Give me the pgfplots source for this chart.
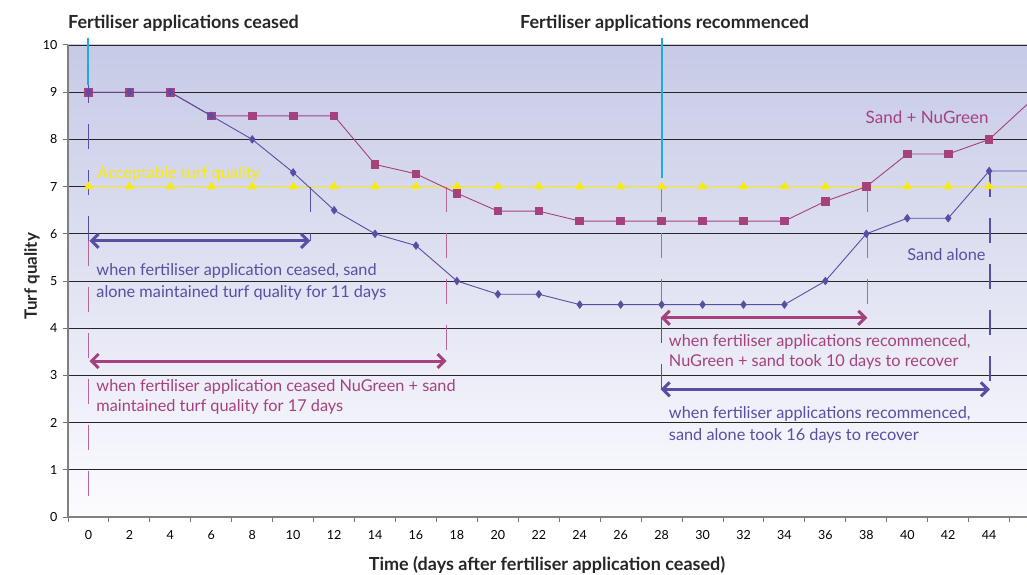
\documentclass[border=0pt]{standalone}
\usepackage{fontspec}
\setmainfont{Lato}
\usepackage{pgfplots}
\pgfplotsset{compat=1.18}
\usetikzlibrary{arrows.meta}
\definecolor{sblue}{RGB}{88,78,163}
\definecolor{smag}{RGB}{165,65,125}
\definecolor{syel}{RGB}{250,235,0}
\definecolor{scyan}{RGB}{30,170,230}
\definecolor{bgtop}{RGB}{198,202,230}
\definecolor{bgbot}{RGB}{252,252,255}
\pgfplotstableread{
x y
0 9
2 9
4 9
6 8.5
8 8
10 7.3
12 6.5
14 6
16 5.75
18 5
20 4.72
22 4.72
24 4.5
26 4.5
28 4.5
30 4.5
32 4.5
34 4.5
36 5
38 6
40 6.33
42 6.33
44 7.33
46 7.33
}\sandalone
\pgfplotstableread{
x y
0 9
2 9
4 9
6 8.5
8 8.5
10 8.5
12 8.5
14 7.47
16 7.27
18 6.86
20 6.48
22 6.48
24 6.27
26 6.27
28 6.27
30 6.27
32 6.27
34 6.27
36 6.69
38 7
40 7.69
42 7.69
44 8
46 8.8
}\nugreen
\pgfplotstableread{
x y
0 7
2 7
4 7
6 7
8 7
10 7
12 7
14 7
16 7
18 7
20 7
22 7
24 7
26 7
28 7
30 7
32 7
34 7
36 7
38 7
40 7
42 7
44 7
46 7
}\accept
\tikzset{
  arr/.style={line width=3pt, {Straight Barb[length=7pt,width=14pt]}-{Straight Barb[length=7pt,width=14pt]}},
  vd/.style={line width=1.2pt, dash pattern=on 25pt off 21pt},
  note/.style={anchor=base west, inner sep=0pt, font=\fontsize{16.3}{16.3}\selectfont},
  ttl/.style={inner sep=0pt, font=\bfseries\fontsize{18}{18}\selectfont, text=black!85},
}
\begin{document}
\begin{tikzpicture}
\useasboundingbox (-68pt,-57pt) rectangle (959pt,517pt);
\begin{axis}[
  at={(0pt,0pt)}, anchor=south west,
  scale only axis, width=959pt, height=472pt,
  xmin=-1, xmax=45.85, ymin=0, ymax=10,
  clip mode=individual,
  axis x line*=bottom, axis y line*=left,
  axis line style={draw=black!50, line width=1.5pt},
  axis background/.style={shade, top color=bgtop, bottom color=bgbot},
  xtick={0,2,...,46}, minor xtick={-1,1,...,45},
  ytick={0,...,10},
  tick align=outside,
  major tick length=5pt, minor tick length=5pt,
  every major x tick/.style={draw=none},
  tick style={draw=black!55, line width=1pt},
  ymajorgrids,
  major grid style={draw=black!85, line width=0.9pt},
  ticklabel style={font=\fontsize{12.5}{12.5}\selectfont},
  xticklabel style={yshift=-5pt},
  yticklabel style={xshift=-2pt},
  /pgf/number format/assume math mode=true,
]
% vertical dashed guides
\draw[sblue, vd] (axis cs:0,9.3) -- (axis cs:0,5.85);
\draw[smag!80, vd] (axis cs:0,5.85) -- (axis cs:0,0.1);
\draw[sblue, vd] (axis cs:10.83,7) -- (axis cs:10.83,5.85);
\draw[smag!80, vd] (axis cs:17.5,7) -- (axis cs:17.5,3.3);
\draw[smag!80, vd] (axis cs:28,7) -- (axis cs:28,4.22);
\draw[sblue, vd] (axis cs:28,4.22) -- (axis cs:28,2.7);
\draw[smag!80, vd] (axis cs:38.05,7) -- (axis cs:38.05,4.22);
\draw[sblue, vd] (axis cs:44.04,7.3) -- (axis cs:44.04,2.7);
% series
\addplot[syel, line width=0.6pt, mark=triangle*, mark size=4.6pt,
  mark options={fill=syel, draw=syel}, mark indices={1,...,23}] table[x=x,y=y] {\accept};
\addplot[smag, line width=0.9pt, mark=square*, mark size=3.8pt,
  mark options={fill=smag, draw=smag}, mark indices={1,...,23}] table[x=x,y=y] {\nugreen};
\addplot[sblue, line width=0.9pt, mark=diamond*, mark size=3.6pt,
  mark options={fill=sblue, draw=sblue}, mark indices={1,...,23}] table[x=x,y=y] {\sandalone};
% arrows
\draw[sblue, arr] (axis cs:0.05,5.85) -- (axis cs:10.83,5.85);
\draw[smag, arr] (axis cs:0.05,3.305) -- (axis cs:17.5,3.305);
\draw[smag, arr] (axis cs:27.95,4.22) -- (axis cs:38.05,4.22);
\draw[sblue, arr] (axis cs:27.95,2.705) -- (axis cs:44.04,2.705);
% cyan markers
\draw[scyan, line width=2pt] (axis cs:0,10.15) -- (axis cs:0,9.15);
\draw[scyan, line width=2pt] (axis cs:28,10.15) -- (axis cs:28,7.18);
% notes
\node[note, text=syel] at (axis cs:0.43,7.175) {Acceptable turf quality};
\node[note, text=sblue] at (axis cs:0.38,5.106) {when fertiliser application ceased, sand};
\node[note, text=sblue] at (axis cs:0.38,4.66) {alone maintained turf quality for 11 days};
\node[note, text=smag] at (axis cs:0.38,2.655) {when fertiliser application ceased NuGreen + sand};
\node[note, text=smag] at (axis cs:0.38,2.23) {maintained turf quality for 17 days};
\node[note, text=smag] at (axis cs:28.35,3.61) {when fertiliser applications recommenced,};
\node[note, text=smag] at (axis cs:28.35,3.18) {NuGreen + sand took 10 days to recover};
\node[note, text=sblue] at (axis cs:28.35,2.09) {when fertiliser applications recommenced,};
\node[note, text=sblue] at (axis cs:28.35,1.63) {sand alone took 16 days to recover};
\node[note, text=smag, font=\fontsize{17}{17}\selectfont] at (axis cs:37.96,8.33) {Sand + NuGreen};
\node[note, text=sblue] at (axis cs:40.0,5.44) {Sand alone};
\end{axis}
\node[ttl, anchor=base west] at (0pt,488pt) {Fertiliser applications ceased};
\node[ttl, anchor=base west] at (452pt,488pt) {Fertiliser applications recommenced};
\node[ttl, rotate=90, font=\bfseries\fontsize{17}{17}\selectfont] at (-36pt,241pt) {Turf quality};
\node[ttl, anchor=base] at (479pt,-53pt) {Time (days after fertiliser application ceased)};
\end{tikzpicture}
\end{document}
